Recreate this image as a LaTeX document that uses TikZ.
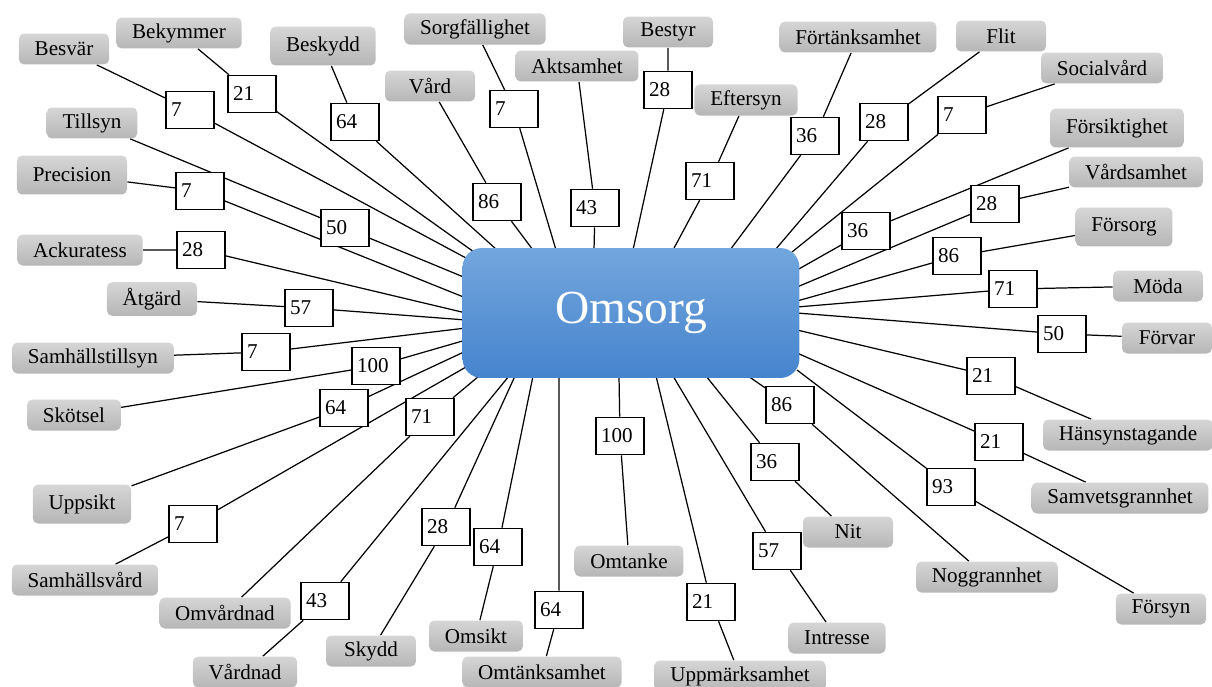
\documentclass[tikz,border=0pt]{standalone}
\usepackage{fontspec}
\setmainfont{Liberation Serif}
\usetikzlibrary{backgrounds}
\definecolor{hubtop}{RGB}{114,166,221}
\definecolor{hubbottom}{RGB}{70,132,206}
\definecolor{termtop}{RGB}{214,214,214}
\definecolor{termbottom}{RGB}{182,182,182}

\begin{document}
\begin{tikzpicture}[x=0.02cm, y=-0.02cm,
    hub/.style={rounded corners=11pt, top color=hubtop, bottom color=hubbottom,
        minimum width=6.74cm, minimum height=2.6cm, text=white,
        font=\fontsize{27}{30}\selectfont},
    term/.style={rounded corners=3pt, top color=termtop, bottom color=termbottom,
        minimum width=1.8cm, minimum height=0.62cm, inner xsep=9pt,
        font=\fontsize{12}{14}\selectfont},
    tall/.style={minimum height=0.78cm},
    score/.style={draw, line width=0.9pt, fill=white, text width=0.76cm,
        align=left, inner xsep=0.1cm, minimum height=0.74cm,
        font=\fontsize{12}{14}\selectfont},
    link/.style={line width=0.7pt}]
    \useasboundingbox (0,0) rectangle (1212,686);

    %the central concept
    \node[hub] (omsorg) at (631,313) {Omsorg};

    %define the terms, left side from top
    \node[term] (besvar)       at (64,49)   {Besvär};
    \node[term] (bekymmer)     at (179,33)  {Bekymmer};
    \node[term, tall] (beskydd) at (323,46) {Beskydd};
    \node[term] (tillsyn)      at (92,123)  {Tillsyn};
    \node[term, tall] (precision) at (72,175) {Precision};
    \node[term] (ackuratess)   at (80,250)  {Ackuratess};
    \node[term] (atgard)       at (152,299) {Åtgärd};
    \node[term] (samhtillsyn)  at (93,358)  {Samhällstillsyn};
    \node[term] (skotsel)      at (74,415)  {Skötsel};
    \node[term, tall] (uppsikt) at (82,504) {Uppsikt};
    \node[term] (samhvard)     at (85,580)  {Samhällsvård};
    \node[term] (omvardnad)    at (225,613) {Omvårdnad};
    \node[term] (vardnad)      at (245,672) {Vårdnad};
    \node[term] (skydd)        at (371,651) {Skydd};
    \node[term] (omsikt)       at (476,636) {Omsikt};
    \node[term] (omtanksamhet) at (542,672) {Omtänksamhet};
    \node[term] (omtanke)      at (629,561) {Omtanke};
    \node[term] (uppmarksamhet) at (740,676) {Uppmärksamhet};
    %right side from bottom
    \node[term] (intresse)     at (837,638)  {Intresse};
    \node[term] (nit)          at (848,532)  {Nit};
    \node[term] (noggrannhet)  at (987,577)  {Noggrannhet};
    \node[term] (forsyn)       at (1161,609) {Försyn};
    \node[term] (samvet)       at (1120,498) {Samvetsgrannhet};
    \node[term] (hansyn)       at (1128,435) {Hänsynstagande};
    \node[term] (forvar)       at (1167,338) {Förvar};
    \node[term] (moda)         at (1158,286) {Möda};
    \node[term, tall] (forsorg) at (1124,227) {Försorg};
    \node[term] (vardsamhet)   at (1136,172) {Vårdsamhet};
    \node[term, tall] (forsiktighet) at (1117,128) {Försiktighet};
    \node[term] (socialvard)   at (1102,68)  {Socialvård};
    \node[term] (flit)         at (1001,36)  {Flit};
    \node[term] (fortanksamhet) at (858,37)  {Förtänksamhet};
    \node[term] (bestyr)       at (668,32)   {Bestyr};
    \node[term] (eftersyn)     at (746,100)  {Eftersyn};
    \node[term] (aktsamhet)    at (577,66)   {Aktsamhet};
    \node[term] (sorgfallighet) at (475,29)  {Sorgfällighet};
    \node[term] (vard)         at (430,86)   {Vård};

    %define the scores
    \node[score] (nbesvar)       at (190,110) {7};
    \node[score] (nbekymmer)     at (252,94)  {21};
    \node[score] (nbeskydd)      at (355,122) {64};
    \node[score] (ntillsyn)      at (345,228) {50};
    \node[score] (nprecision)    at (200,191) {7};
    \node[score] (nackuratess)   at (201,250) {28};
    \node[score] (natgard)       at (309,308) {57};
    \node[score] (nsamhtillsyn)  at (266,352) {7};
    \node[score] (nskotsel)      at (376,366) {100};
    \node[score] (nuppsikt)      at (344,408) {64};
    \node[score] (nsamhvard)     at (193,524) {7};
    \node[score] (nomvardnad)    at (430,417) {71};
    \node[score] (nvardnad)      at (325,601) {43};
    \node[score] (nskydd)        at (446,527) {28};
    \node[score] (nomsikt)       at (498,547) {64};
    \node[score] (nomtanksamhet) at (559,610) {64};
    \node[score] (nomtanke)      at (620,436) {100};
    \node[score] (nuppmarksamhet) at (711,602) {21};
    \node[score] (nintresse)     at (777,551) {57};
    \node[score] (nnit)          at (775,462) {36};
    \node[score] (nnoggrannhet)  at (790,405) {86};
    \node[score] (nforsyn)       at (951,487) {93};
    \node[score] (nsamvet)       at (999,442) {21};
    \node[score] (nhansyn)       at (991,376) {21};
    \node[score] (nforvar)       at (1062,334) {50};
    \node[score] (nmoda)         at (1013,289) {71};
    \node[score] (nforsorg)      at (957,256) {86};
    \node[score] (nvardsamhet)   at (995,204) {28};
    \node[score] (nforsiktighet) at (866,231) {36};
    \node[score] (nsocialvard)   at (962,115) {7};
    \node[score] (nflit)         at (884,122) {28};
    \node[score] (nfortanksamhet) at (815,136) {36};
    \node[score] (nbestyr)       at (668,90)  {28};
    \node[score] (neftersyn)     at (710,181) {71};
    \node[score] (naktsamhet)    at (595,208) {43};
    \node[score] (nsorgfallighet) at (514,109) {7};
    \node[score] (nvard)         at (497,202) {86};

    %define the links, each ending on the rim of the hub
    \begin{scope}[on background layer]
    \foreach \w/\ex/\ey in {besvar/466/258, bekymmer/474/252, beskydd/497/250,
        tillsyn/466/278, precision/466/298, ackuratess/466/313, atgard/466/320,
        samhtillsyn/466/328, skotsel/466/340, uppsikt/466/351, samhvard/466/367,
        omvardnad/479/376, vardnad/509/376, skydd/515/376, omsikt/533/376,
        omtanksamhet/559/376, omtanke/619/376, uppmarksamhet/656/376,
        intresse/673/376, nit/706/376, noggrannhet/748/376, forsyn/797/370,
        samvet/797/353, hansyn/797/330, forvar/797/313, moda/797/307,
        forsorg/797/301, vardsamhet/797/287, forsiktighet/797/270,
        socialvard/792/252, flit/775/250, fortanksamhet/730/250,
        bestyr/633/250, eftersyn/673/250, aktsamhet/594/250,
        sorgfallighet/556/250, vard/533/250}{
        \coordinate (e\w) at (\ex,\ey);
        \draw[link] (\w) -- (n\w) -- (e\w);
    }
    \end{scope}
\end{tikzpicture}
\end{document}
